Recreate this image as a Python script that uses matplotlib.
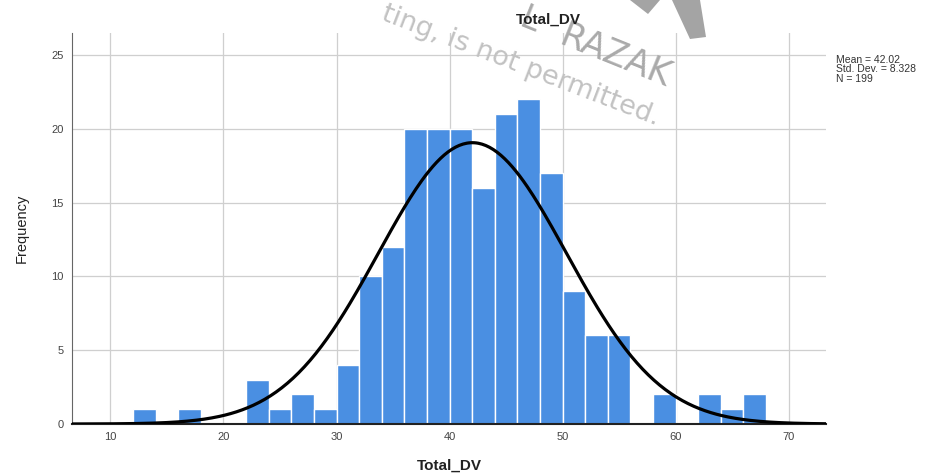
import numpy as np
import matplotlib.pyplot as plt

plt.rcParams['font.family'] = ['Liberation Sans', 'DejaVu Sans']

# histogram of Total_DV, bins of width 2 starting at 12
bin_starts = np.arange(12, 68, 2)
counts = [1, 0, 1, 0, 0, 3, 1, 2, 1, 4, 10, 12, 20, 20, 20, 16, 21, 22, 17, 9, 6, 6, 0, 2, 0, 2, 1, 2]
mean_val = 42.02
std_val = 8.328
n_obs = 199

x_ticks = [10, 20, 30, 40, 50, 60, 70]
y_ticks = [0, 5, 10, 15, 20, 25]

W, H = 952, 475
fig = plt.figure(figsize=(W / 100, H / 100), dpi=100)


def fx(px):
    return px / W


def fy(py):
    return 1 - py / H


# faint watermark behind the chart
fig.text(fx(380), fy(19), 'ting, is not permitted.', fontsize=19.5, color='#c2c2c2',
         family='DejaVu Sans', rotation=-21, rotation_mode='anchor', ha='left', va='baseline')
fig.text(fx(518), fy(26), 'L', fontsize=24, color='#aaaaaa',
         family='DejaVu Sans', rotation=-22, rotation_mode='anchor', ha='left', va='baseline')
fig.text(fx(558), fy(44), 'RAZAK', fontsize=25, color='#aaaaaa',
         family='DejaVu Sans', rotation=-22, rotation_mode='anchor', ha='left', va='baseline')
for pts in ([(672, 0), (700, 0), (706, 37), (690, 39)],
            [(630, 0), (660, 0), (648, 14)]):
    fig.patches.append(plt.Polygon([(fx(a), fy(b)) for a, b in pts], closed=True,
                                   transform=fig.transFigure, color='#a4a4a4', lw=0))

ax = fig.add_axes([fx(72), fy(424), 754 / W, 391 / H])
ax.patch.set_alpha(0)

ax.bar(bin_starts, counts, width=2, align='edge', color='#4a8fe2',
       edgecolor='white', linewidth=1.0, zorder=2)

# normal curve scaled to counts
xs = np.linspace(6.6, 73.3, 400)
ys = n_obs * 2 / (std_val * np.sqrt(2 * np.pi)) * np.exp(-0.5 * ((xs - mean_val) / std_val) ** 2)
ax.plot(xs, ys, color='black', linewidth=2.3, zorder=3)

ax.set_xlim(6.6, 73.3)
ax.set_ylim(0, 26.5)
ax.set_xticks(x_ticks)
ax.set_yticks(y_ticks)
ax.grid(True, color='#cfcfcf', linewidth=0.9, zorder=0)
ax.set_axisbelow(True)
ax.tick_params(length=0, labelsize=8, colors='#444444', pad=6)
for s in ['top', 'right']:
    ax.spines[s].set_visible(False)
ax.spines['left'].set_color('#666666')
ax.spines['bottom'].set_color('#222222')
ax.spines['bottom'].set_linewidth(1.5)

ax.set_xlabel('Total_DV', fontsize=11, fontweight='bold', color='#222222', labelpad=12)
ax.set_ylabel('Frequency', fontsize=10.5, color='#222222', labelpad=16)
fig.text(fx(548), fy(20), 'Total_DV', fontsize=11, fontweight='bold', color='#222222',
         ha='center', va='center')

fig.text(0.878, 0.885, f'Mean = {mean_val:.2f}\nStd. Dev. = {std_val:.3f}\nN = {n_obs}',
         fontsize=7.5, color='#333333', va='top', ha='left', linespacing=0.95)

fig.savefig('out.png', dpi=100)
